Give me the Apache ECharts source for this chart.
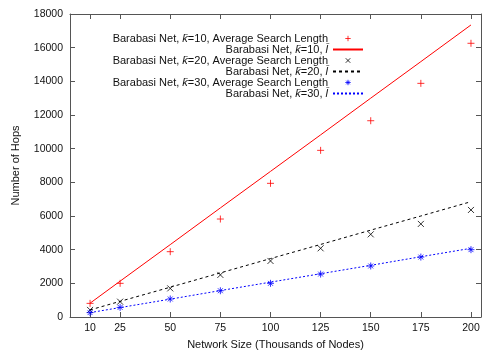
<!DOCTYPE html>
<html lang="en" style="height: 100%">
<head>
  <meta charset="utf-8">
</head>
<body style="height: 100%; margin: 0">
  <div id="container" style="width: 500px; height: 350px"></div>

  <script type="text/javascript" src="https://cdn.jsdelivr.net/npm/echarts@6/dist/echarts.min.js"></script>

  <script type="text/javascript">
    // network size, thousands of nodes
    var sizes = [10, 25, 50, 75, 100, 125, 150, 175, 200];
    var xTicks = [10, 25, 50, 75, 100, 125, 150, 175, 200];

    // average search length (points)
    var searchK10 = [810, 2000, 3880, 5820, 7940, 9900, 11660, 13880, 16260];
    var searchK20 = [420, 910, 1700, 2500, 3330, 4080, 4910, 5530, 6360];
    var searchK30 = [260, 570, 1070, 1560, 2000, 2550, 3030, 3560, 4000];

    // l-bar curves
    var lbarK10 = [820, 2130, 4300, 6480, 8650, 10820, 13000, 15170, 17350];
    var lbarK20 = [420, 930, 1770, 2620, 3470, 4310, 5160, 6000, 6850];
    var lbarK30 = [260, 560, 1060, 1570, 2070, 2570, 3070, 3580, 4080];

    var names = [
      'Barabasi Net, k\u0304=10, Average Search Length',
      'Barabasi Net, k\u0304=10, l\u0304',
      'Barabasi Net, k\u0304=20, Average Search Length',
      'Barabasi Net, k\u0304=20, l\u0304',
      'Barabasi Net, k\u0304=30, Average Search Length',
      'Barabasi Net, k\u0304=30, l\u0304'
    ];

    function pairs(ys) {
      return sizes.map(function (x, i) { return [x, ys[i]]; });
    }

    var RED = '#ff0000', BLACK = '#000', BLUE = '#0000ff';

    var PLUS = 'path://M0,5L10,5M5,0L5,10';
    var CROSS = 'path://M0,0L10,10M0,10L10,0';
    var STAR = 'path://M0,5L10,5M5,0L5,10M1.5,1.5L8.5,8.5M1.5,8.5L8.5,1.5';
    // same glyphs with empty margin, so the legend draws them small
    var PLUS_L = 'path://M0,0M10,10M2,5L8,5M5,2L5,8';
    var CROSS_L = 'path://M0,0M10,10M2.5,2.5L7.5,7.5M2.5,7.5L7.5,2.5';
    var STAR_L = 'path://M0,0M10,10M2,5L8,5M5,2L5,8M3,3L7,7M3,7L7,3';

    var FONT = 'Liberation Sans';
    var GREY = '#555';
    var tick = { show: true, inside: true, length: 5, lineStyle: { color: GREY, width: 1 } };
    var frame = { show: true, onZero: false, lineStyle: { color: GREY, width: 1 } };

    function legendItem(name, icon, color) {
      return { name: name, icon: icon, itemStyle: { color: color, borderColor: color, borderWidth: 1 } };
    }
    function legendLine(name) {
      // hide the dot that line series put in their legend icon
      return { name: name, itemStyle: { opacity: 0 } };
    }

    var dom = document.getElementById('container');
    var myChart = echarts.init(dom, null, { renderer: 'canvas' });

    var option = {
      animation: false,
      textStyle: { fontFamily: FONT, color: '#111' },
      grid: { left: 70, right: 19, top: 14, bottom: 33, outerBoundsMode: 'none' },
      legend: {
        orient: 'vertical',
        align: 'right',
        right: 131,
        top: 28,
        itemWidth: 30,
        itemHeight: 9,
        itemGap: 0,
        selectedMode: false,
        data: [
          legendItem(names[0], PLUS_L, RED),
          legendLine(names[1]),
          legendItem(names[2], CROSS_L, BLACK),
          legendLine(names[3]),
          legendItem(names[4], STAR_L, BLUE),
          legendLine(names[5])
        ],
        textStyle: {
          fontFamily: FONT, fontSize: 11, color: '#111',
          rich: {
            i: { fontFamily: FONT, fontSize: 11, fontStyle: 'italic', color: '#111' }
          }
        },
        formatter: function (n) {
          return n.replace('k\u0304', '{i|k\u0304}').replace(/l\u0304$/, '{i|l\u0304}');
        }
      },
      xAxis: [{
        type: 'value',
        min: 0,
        max: 205,
        name: 'Network Size (Thousands of Nodes)',
        nameLocation: 'middle',
        nameGap: 22,
        nameTextStyle: { fontFamily: FONT, fontSize: 11, color: '#111' },
        axisLine: frame,
        splitLine: { show: false },
        axisTick: Object.assign({ customValues: xTicks }, tick),
        axisLabel: { fontFamily: FONT, fontSize: 10.5, color: '#111', margin: 6, customValues: xTicks }
      }, {
        type: 'value',
        position: 'top',
        min: 0,
        max: 205,
        axisLine: frame,
        splitLine: { show: false },
        axisTick: Object.assign({ customValues: xTicks }, tick),
        axisLabel: { show: false, customValues: xTicks }
      }],
      yAxis: [{
        type: 'value',
        min: 0,
        max: 18000,
        interval: 2000,
        name: 'Number of Hops',
        nameLocation: 'middle',
        nameGap: 49,
        nameTextStyle: { fontFamily: FONT, fontSize: 11, color: '#111' },
        axisLine: frame,
        splitLine: { show: false },
        axisTick: tick,
        axisLabel: {
          fontFamily: FONT, fontSize: 10.5, color: '#111', margin: 7,
          formatter: function (v) { return String(v); }
        }
      }, {
        type: 'value',
        position: 'right',
        min: 0,
        max: 18000,
        interval: 2000,
        axisLine: frame,
        splitLine: { show: false },
        axisTick: tick,
        axisLabel: { show: false }
      }],
      series: [
        {
          name: names[0], type: 'scatter', data: pairs(searchK10),
          symbol: PLUS, symbolSize: 7,
          itemStyle: { color: RED, borderColor: RED, borderWidth: 1 }
        },
        {
          name: names[1], type: 'line', data: pairs(lbarK10), symbol: 'none',
          itemStyle: { color: RED },
          lineStyle: { color: RED, width: 1, type: 'solid' }
        },
        {
          name: names[2], type: 'scatter', data: pairs(searchK20),
          symbol: CROSS, symbolSize: 6,
          itemStyle: { color: BLACK, borderColor: BLACK, borderWidth: 1 }
        },
        {
          name: names[3], type: 'line', data: pairs(lbarK20), symbol: 'none',
          itemStyle: { color: BLACK },
          lineStyle: { color: BLACK, width: 1, type: [3, 3] }
        },
        {
          name: names[4], type: 'scatter', data: pairs(searchK30),
          symbol: STAR, symbolSize: 7,
          itemStyle: { color: BLUE, borderColor: BLUE, borderWidth: 1 }
        },
        {
          name: names[5], type: 'line', data: pairs(lbarK30), symbol: 'none',
          itemStyle: { color: BLUE },
          lineStyle: { color: BLUE, width: 1, type: [2, 2] }
        }
      ]
    };

    myChart.setOption(option);
    window.addEventListener('resize', myChart.resize);
  </script>
</body>
</html>
